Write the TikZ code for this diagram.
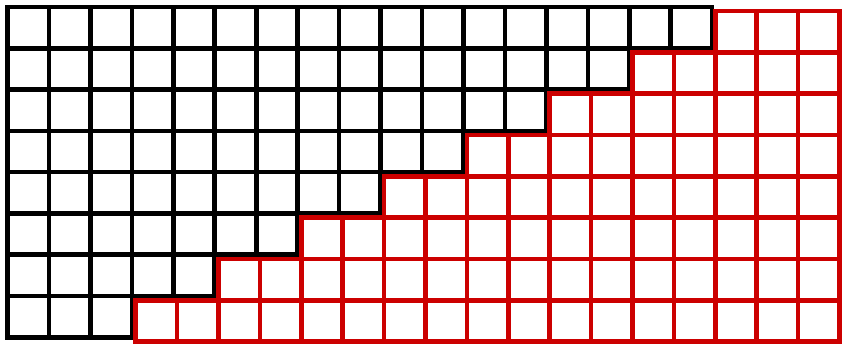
\documentclass[tikz,border=0pt]{standalone}
\definecolor{gridred}{RGB}{204,0,0}
\tikzset{
  blackcell/.style={draw=black, line width=4.6pt, line join=miter},
  redcell/.style={draw=gridred, line width=4.6pt, line join=miter}
}
\begin{document}
\begin{tikzpicture}[x=1pt,y=-1pt]
\useasboundingbox (0,0) rectangle (844,344);
\def\cs{41.45}
\foreach \j in {0,...,7}{
  \pgfmathtruncatemacro{\nb}{17-2*\j}
  \pgfmathtruncatemacro{\lastb}{\nb-1}
  \foreach \i in {0,...,\lastb}{
    \draw[blackcell] ({7.5+\i*\cs},{7+\j*41.3}) rectangle ++(\cs,41.3);
  }
  \foreach \i in {\nb,...,19}{
    \draw[redcell] ({11.5+\i*41.4},{11+\j*41.35}) rectangle ++(41.4,41.35);
  }
}
\end{tikzpicture}
\end{document}
